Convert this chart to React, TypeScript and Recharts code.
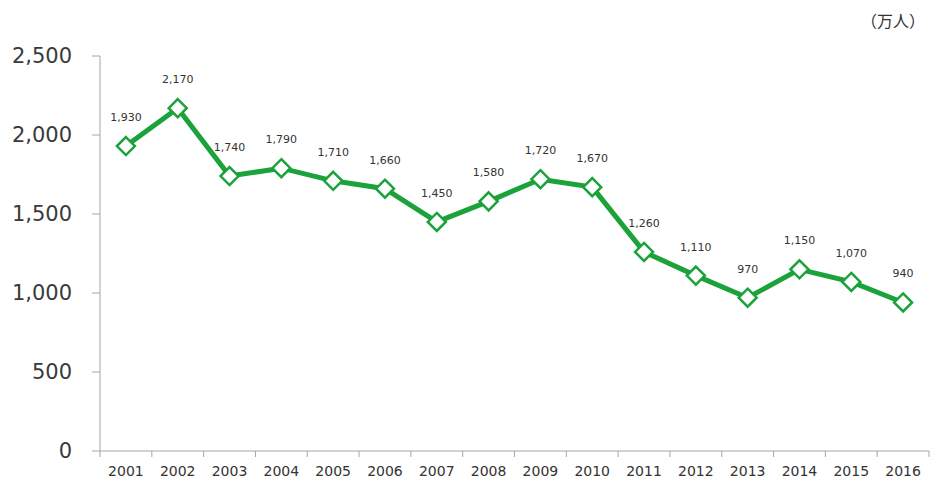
import React from "react";
import { LineChart, Line, XAxis, YAxis, LabelList } from "recharts";

const years = ["2001","2002","2003","2004","2005","2006","2007","2008","2009","2010","2011","2012","2013","2014","2015","2016"];
const visitors = [1930, 2170, 1740, 1790, 1710, 1660, 1450, 1580, 1720, 1670, 1260, 1110, 970, 1150, 1070, 940];
const yTicks = [0, 500, 1000, 1500, 2000, 2500];
const unitLabel = "（万人）";

const GREEN = "#1ca23b";
const FONT = "'DejaVu Sans', Verdana, sans-serif";

const data = years.map((y, i) => ({ pos: i + 1, year: y, value: visitors[i] }));
const xTicks: number[] = [];
for (let i = 0; i <= years.length * 2; i++) xTicks.push(0.5 + i * 0.5);

const fmt = (v: number) => v.toLocaleString("en-US");

const XTick = (props: any) => {
  const { x, y, payload } = props;
  const v = payload.value as number;
  if (Math.abs(v - Math.round(v)) > 0.01) {
    return <line x1={x} x2={x} y1={y} y2={y + 6} stroke="#a6a6a6" strokeWidth={1} />;
  }
  const label = years[Math.round(v) - 1];
  return (
    <text x={x} y={y + 25} textAnchor="middle" fontSize={14} fill="#333" fontFamily={FONT}>
      {label}
    </text>
  );
};

const Diamond = (props: any) => {
  const { cx, cy } = props;
  if (cx == null || cy == null) return null;
  const r = 9;
  return (
    <polygon
      points={`${cx},${cy - r} ${cx + r},${cy} ${cx},${cy + r} ${cx - r},${cy}`}
      fill="#fff"
      stroke={GREEN}
      strokeWidth={2.5}
    />
  );
};

export default function App() {
  return (
    <div style={{ position: "absolute", left: 0, top: 0, width: 941, height: 490, background: "#fff" }}>
      <LineChart width={941} height={490} data={data} margin={{ top: 56, right: 12, bottom: 0, left: 0 }}>
        <XAxis
          dataKey="pos"
          type="number"
          domain={[0.5, years.length + 0.5]}
          ticks={xTicks}
          interval={0}
          tickSize={0}
          tickMargin={0}
          tickLine={false}
          tick={<XTick />}
          height={39}
          axisLine={{ stroke: "#a6a6a6" }}
          allowDecimals
        />
        <YAxis
          domain={[0, 2500]}
          ticks={yTicks}
          width={100}
          tickSize={8}
          tickMargin={20}
          tickFormatter={fmt}
          axisLine={{ stroke: "#a6a6a6" }}
          tickLine={{ stroke: "#a6a6a6" }}
          tick={{ fontSize: 21, fill: "#3a3a3a", fontFamily: FONT }}
        />
        <Line
          type="linear"
          dataKey="value"
          stroke={GREEN}
          strokeWidth={5}
          dot={<Diamond />}
          activeDot={false}
          isAnimationActive={false}
        >
          <LabelList
            dataKey="value"
            position="top"
            offset={25}
            formatter={(v: any) => fmt(Number(v))}
            style={{ fontSize: 11, fill: "#333", fontFamily: FONT }}
          />
        </Line>
      </LineChart>
      <div
        style={{
          position: "absolute",
          left: 861,
          top: 8,
          fontSize: 16,
          color: "#333",
          fontFamily: "'Noto Sans CJK JP', sans-serif",
          whiteSpace: "nowrap",
        }}
      >
        {unitLabel}
      </div>
    </div>
  );
}
